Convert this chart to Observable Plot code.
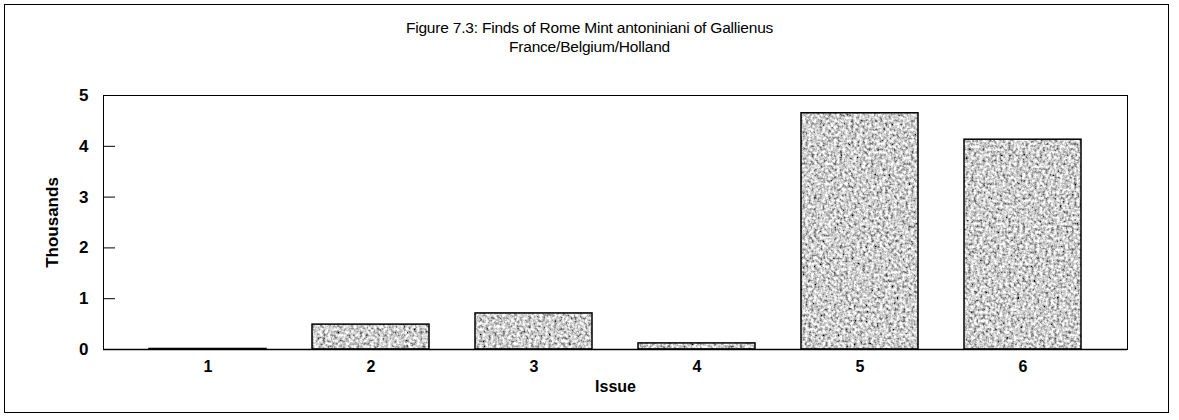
<!DOCTYPE html>
<html><head><meta charset="utf-8">
<script src="https://cdn.jsdelivr.net/npm/d3@7"></script>
<script src="https://cdn.jsdelivr.net/npm/@observablehq/plot@0.6"></script>
<style>
body{margin:0;background:#fff;}
#wrap{position:relative;width:1179px;height:420px;font-family:"Liberation Sans",Arial,sans-serif;overflow:hidden;}
#border{position:absolute;left:4px;top:4px;width:1165px;height:409px;border:1.5px solid #000;pointer-events:none;box-sizing:border-box;}
#title{position:absolute;left:0;top:18px;width:1179px;text-align:center;font-size:15.5px;line-height:19px;color:#000;letter-spacing:-0.2px;}
#chart{position:absolute;left:0;top:0;}
</style></head>
<body>
<div id="wrap">
  <div id="chart"></div>
  <div id="title">Figure 7.3: Finds of Rome Mint antoniniani of Gallienus<br>France/Belgium/Holland</div>
  <div id="border"></div>
</div>
<script>
const issues = ["1", "2", "3", "4", "5", "6"];
const thousands = [0.01, 0.49, 0.71, 0.12, 4.65, 4.13];
const yTicks = [0, 1, 2, 3, 4, 5];
const xLabel = "Issue";
const yLabel = "Thousands";

const data = issues.map((d, i) => ({issue: d, value: thousands[i]}));

const chart = Plot.plot({
  width: 1179,
  height: 420,
  marginLeft: 103,
  marginRight: 52,
  marginTop: 95,
  marginBottom: 71,
  style: {fontFamily: "'Liberation Sans', Arial, sans-serif", fontSize: "14px", fontWeight: "bold", color: "#000", background: "transparent"},
  x: {domain: issues, padding: 0.28},
  y: {domain: [0, 5]},
  marks: [
    Plot.barY(data, {x: "issue", y: "value", fill: "url(#grain)"}),
    Plot.barY(data, {x: "issue", y: "value", fill: "none", stroke: "#000", strokeWidth: 1.5}),
    Plot.frame({stroke: "#000", strokeWidth: 1}),
    Plot.ruleY([0], {stroke: "#000", strokeWidth: 1.5}),
    Plot.axisY({ticks: yTicks, tickSize: -12, tickFormat: () => "", label: null}),
    Plot.axisY({ticks: yTicks, tickSize: 0, tickPadding: 15, tickFormat: "d", fontSize: 17, label: yLabel, labelAnchor: "center", labelOffset: 58, labelArrow: "none"}),
    Plot.axisX({tickSize: 0, tickPadding: 11, fontSize: 16, label: xLabel, labelAnchor: "center", labelOffset: 42, labelArrow: "none"})
  ]
});

const svg = d3.select(chart);
const defs = svg.insert("defs", ":first-child");
const filt = defs.append("filter").attr("id", "noise").attr("x", 0).attr("y", 0).attr("width", "100%").attr("height", "100%");
filt.append("feTurbulence").attr("type", "fractalNoise").attr("baseFrequency", 0.35).attr("numOctaves", 3).attr("seed", 3);
filt.append("feColorMatrix").attr("type", "matrix")
  .attr("values", "1.8 0 0 0 -0.28  1.8 0 0 0 -0.28  1.8 0 0 0 -0.28  0 0 0 0 1");
const pat = defs.append("pattern").attr("id", "grain").attr("patternUnits", "userSpaceOnUse")
  .attr("width", 1179).attr("height", 420);
pat.append("rect").attr("width", 1179).attr("height", 420).attr("fill", "#999");
pat.append("rect").attr("width", 1179).attr("height", 420).attr("filter", "url(#noise)");

document.getElementById("chart").appendChild(chart);
</script>
</body></html>
